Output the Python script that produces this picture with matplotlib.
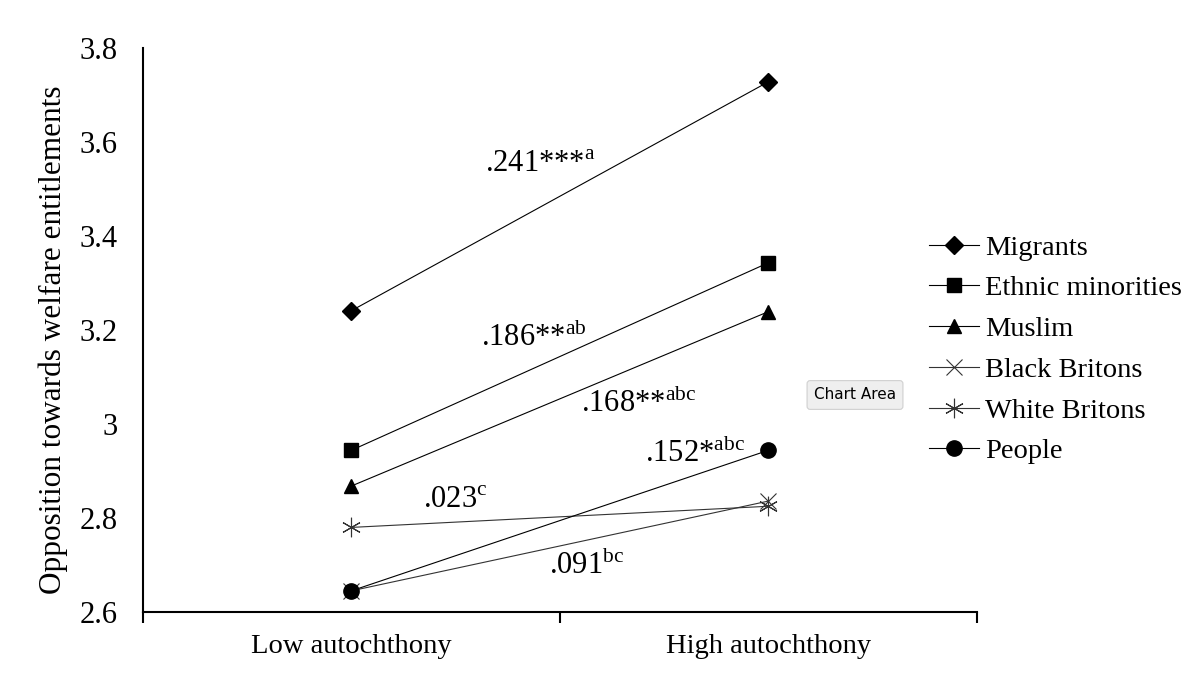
import matplotlib
matplotlib.use("Agg")
import matplotlib.pyplot as plt
from matplotlib.ticker import FixedLocator

plt.rcParams['font.family'] = ['Liberation Serif', 'DejaVu Serif']
plt.rcParams['mathtext.fontset'] = 'custom'
plt.rcParams['mathtext.rm'] = 'Liberation Serif'

categories = ["Low autochthony", "High autochthony"]
series_names = ["Migrants", "Ethnic minorities", "Muslim", "Black Britons", "White Britons", "People"]
migrants = [3.241, 3.728]
ethnic = [2.944, 3.343]
muslim = [2.868, 3.239]
black = [2.645, 2.836]
white = [2.780, 2.825]
people = [2.645, 2.944]
yticks = [2.6, 2.8, 3.0, 3.2, 3.4, 3.6, 3.8]
ytick_labels = ["2.6", "2.8", "3", "3.2", "3.4", "3.6", "3.8"]

annotations = [
    (".241***", "a", 0.32, 3.553),
    (".186**", "ab", 0.31, 3.186),
    (".168**", "abc", 0.55, 3.044),
    (".152*", "abc", 0.705, 2.938),
    (".023", "c", 0.171, 2.838),
    (".091", "bc", 0.474, 2.700),
]

fig = plt.figure(figsize=(12, 6.81), dpi=100)
ax = fig.add_axes([0.119, 0.1013, 0.695, 0.8282])

x = [0, 1]
styles = [
    (migrants, dict(marker='D', markersize=9, color='black')),
    (ethnic, dict(marker='s', markersize=10, color='black')),
    (muslim, dict(marker='^', markersize=10, color='black')),
    (black, dict(marker='x', markersize=11, color='#333333', markeredgewidth=0.8)),
    (white, dict(marker=(6, 2, 0), markersize=14, color='#333333', markeredgewidth=0.8)),
    (people, dict(marker='o', markersize=11, color='black')),
]
for (vals, st), name in zip(styles, series_names):
    ax.plot(x, vals, linewidth=0.8, label=name, **st)

for main, sup, tx, ty in annotations:
    ax.text(tx, ty, main + r"$^{\mathrm{" + sup + "}}$", fontsize=22, ha='left', va='center')

ax.set_xlim(-0.5, 1.5)
ax.set_ylim(2.6, 3.8)
ax.set_yticks(yticks)
ax.set_yticklabels(ytick_labels, fontsize=22)
ax.tick_params(axis='y', length=0, pad=18)
ax.set_xticks(x)
ax.set_xticklabels(categories, fontsize=20.5)
ax.tick_params(axis='x', which='major', length=0, pad=16)
ax.xaxis.set_minor_locator(FixedLocator([-0.5, 0.5, 1.5]))
ax.tick_params(axis='x', which='minor', length=8, width=1.5, direction='out')
for s in ['top', 'right']:
    ax.spines[s].set_visible(False)
ax.spines['left'].set_linewidth(1.5)
ax.spines['bottom'].set_linewidth(1.5)

ax.set_ylabel("Opposition towards welfare entitlements", fontsize=22.5)
ax.yaxis.set_label_coords(-0.090, 0.483)

leg = fig.legend(loc='upper left', bbox_to_anchor=(0.765, 0.672), frameon=False,
                 fontsize=20.5, handlelength=1.75, handletextpad=0.2, labelspacing=0.52,
                 borderaxespad=0)

fig.text(855 / 1200, 1 - 395 / 681, "Chart Area", fontsize=11, family='DejaVu Sans',
         ha='center', va='center',
         bbox=dict(boxstyle='round,pad=0.45,rounding_size=0.2', facecolor='#efefef',
                   edgecolor='#d0d0d0', linewidth=0.8))

fig.savefig("out.png", dpi=100)
